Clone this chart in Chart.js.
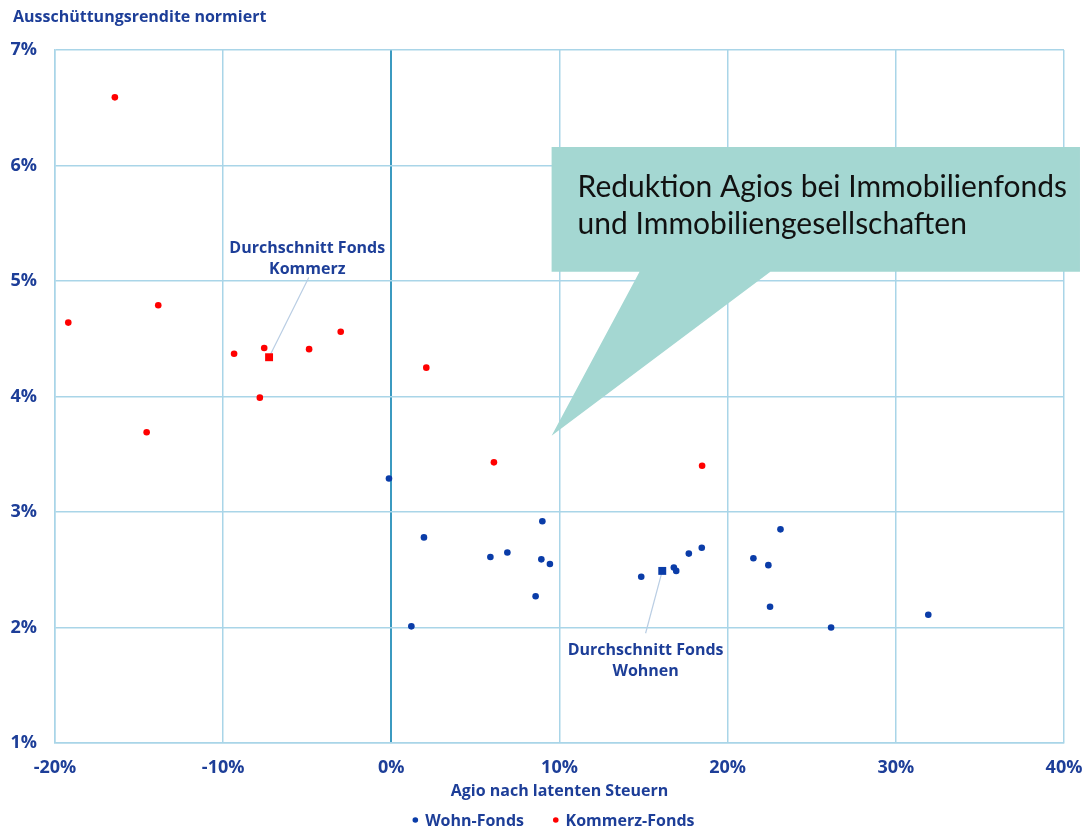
<!DOCTYPE html>
<html>
<head>
<meta charset="utf-8">
<script src="https://cdn.jsdelivr.net/npm/chart.js@4.4.1/dist/chart.umd.min.js"></script>
<style>
  html, body { margin: 0; padding: 0; background: #ffffff; }
  #wrap { width: 1084px; height: 830px; position: relative; }
</style>
</head>
<body>
<div id="wrap"><canvas id="chart"></canvas></div>
<script>
// Agio (x, %) vs. normalised distribution yield (y, %)
const wohnAgio    = [-0.14, 1.94, 1.19, 5.89, 6.90, 8.98, 8.92, 9.43, 8.58, 14.86, 16.80, 16.94, 17.69, 18.46, 21.53, 22.42, 23.14, 22.52, 26.15, 31.93];
const wohnRendite = [ 3.29, 2.78, 2.01, 2.61, 2.65, 2.92, 2.59, 2.55, 2.27,  2.44,  2.52,  2.49,  2.64,  2.69,  2.60,  2.54,  2.85,  2.18,  2.00,  2.11];

const kommerzAgio    = [-16.44, -19.21, -13.86, -9.35, -7.56, -4.89, -3.01, 2.08, -7.82, -14.55, 6.10, 18.48];
const kommerzRendite = [  6.59,   4.64,   4.79,  4.37,  4.42,  4.41,  4.56, 4.25,  3.99,   3.69, 3.43,  3.40];

// averages per fund type
const avgKommerz = { x: -7.27, y: 4.34 };
const avgWohnen  = { x: 16.11, y: 2.49 };

const xTickValues = [-20, -10, 0, 10, 20, 30, 40];
const yTickValues = [1, 2, 3, 4, 5, 6, 7];

const seriesNames = ['Wohn-Fonds', 'Kommerz-Fonds'];
const axisTitles = { x: 'Agio nach latenten Steuern', y: 'Ausschüttungsrendite normiert' };
const avgLabels = { kommerz: ['Durchschnitt Fonds', 'Kommerz'], wohnen: ['Durchschnitt Fonds', 'Wohnen'] };
const calloutLines = ['Reduktion Agios bei Immobilienfonds', 'und Immobiliengesellschaften'];

const TEXT_BLUE = '#1d3e98';
const WOHN_BLUE = '#0a3ca8';
const KOMMERZ_RED = '#ff0000';
const GRID = '#a9d5e8';
const ZERO_LINE = '#3b9ac0';
const FONT = '"Open Sans", "Noto Sans", sans-serif';

const toPoints = (xs, ys) => xs.map((x, i) => ({ x: x, y: ys[i] }));

// leader lines, average labels, legend row and the teal callout
const annotations = {
  id: 'annotations',
  beforeDatasetsDraw(chart) {
    const { ctx, scales: { x, y } } = chart;
    ctx.save();
    ctx.strokeStyle = '#b9cde3';
    ctx.lineWidth = 1.2;
    const lines = [
      [avgKommerz, { x: -4.91, y: 5.03 }],
      [avgWohnen,  { x: 15.12, y: 1.95 }]
    ];
    lines.forEach(([a, b]) => {
      ctx.beginPath();
      ctx.moveTo(x.getPixelForValue(a.x), y.getPixelForValue(a.y));
      ctx.lineTo(x.getPixelForValue(b.x), y.getPixelForValue(b.y));
      ctx.stroke();
    });
    ctx.fillStyle = TEXT_BLUE;
    ctx.font = 'bold 16px ' + FONT;
    ctx.textAlign = 'center';
    ctx.textBaseline = 'middle';
    const kx = x.getPixelForValue(-5.0), ky = y.getPixelForValue(5.285);
    ctx.fillText(avgLabels.kommerz[0], kx, ky);
    ctx.fillText(avgLabels.kommerz[1], kx, ky + 21);
    const wx = x.getPixelForValue(15.12), wy = y.getPixelForValue(1.805);
    ctx.fillText(avgLabels.wohnen[0], wx, wy);
    ctx.fillText(avgLabels.wohnen[1], wx, wy + 21);
    ctx.restore();
  },
  afterDraw(chart) {
    const { ctx, chartArea, scales: { x, y } } = chart;
    ctx.save();
    // y-axis heading, top left
    ctx.fillStyle = TEXT_BLUE;
    ctx.font = 'bold 16px ' + FONT;
    ctx.textAlign = 'left';
    ctx.textBaseline = 'middle';
    ctx.fillText(axisTitles.y, 13, 17);

    // legend row below the axis title
    const items = chart.data.datasets.filter(d => seriesNames.includes(d.label));
    const dotR = 2.8, dotGap = 7, itemGap = 29;
    const widths = items.map(d => 2 * dotR + dotGap + ctx.measureText(d.label).width);
    const total = widths.reduce((a, b) => a + b, 0) + itemGap * (items.length - 1);
    let cx = (chartArea.left + chartArea.right) / 2 - 6 - total / 2;
    const ly = chartArea.bottom + 78;
    items.forEach((d, i) => {
      ctx.fillStyle = d.backgroundColor;
      ctx.beginPath();
      ctx.arc(cx + dotR, ly - 1, dotR, 0, Math.PI * 2);
      ctx.fill();
      ctx.fillStyle = TEXT_BLUE;
      ctx.fillText(d.label, cx + 2 * dotR + dotGap, ly);
      cx += widths[i] + itemGap;
    });

    // callout bubble
    const L = x.getPixelForValue(9.53), R = x.getPixelForValue(40.95);
    const T = y.getPixelForValue(6.16), B = y.getPixelForValue(5.08);
    const b1 = x.getPixelForValue(14.76), b2 = x.getPixelForValue(22.54);
    const tipX = x.getPixelForValue(9.53), tipY = y.getPixelForValue(3.66);
    ctx.fillStyle = '#a4d7d2';
    ctx.beginPath();
    ctx.moveTo(L, T);
    ctx.lineTo(R, T);
    ctx.lineTo(R, B);
    ctx.lineTo(b2, B);
    ctx.lineTo(tipX, tipY);
    ctx.lineTo(b1, B);
    ctx.lineTo(L, B);
    ctx.closePath();
    ctx.fill();

    ctx.fillStyle = '#111111';
    ctx.font = '30px Lato, "Open Sans", sans-serif';
    ctx.textAlign = 'left';
    ctx.textBaseline = 'middle';
    ctx.fillText(calloutLines[0], L + 26, T + 40);
    ctx.fillText(calloutLines[1], L + 26, T + 77);
    ctx.restore();
  }
};

new Chart(document.getElementById('chart'), {
  type: 'scatter',
  data: {
    datasets: [
      {
        label: seriesNames[0],
        data: toPoints(wohnAgio, wohnRendite),
        backgroundColor: WOHN_BLUE,
        borderColor: WOHN_BLUE,
        pointRadius: 3.3,
        pointBorderWidth: 0
      },
      {
        label: seriesNames[1],
        data: toPoints(kommerzAgio, kommerzRendite),
        backgroundColor: KOMMERZ_RED,
        borderColor: KOMMERZ_RED,
        pointRadius: 3.3,
        pointBorderWidth: 0
      },
      {
        label: 'avgWohnen',
        data: [avgWohnen],
        backgroundColor: WOHN_BLUE,
        borderColor: WOHN_BLUE,
        pointStyle: 'rect',
        pointRadius: 5.6,
        pointBorderWidth: 0
      },
      {
        label: 'avgKommerz',
        data: [avgKommerz],
        backgroundColor: KOMMERZ_RED,
        borderColor: KOMMERZ_RED,
        pointStyle: 'rect',
        pointRadius: 5.6,
        pointBorderWidth: 0
      }
    ]
  },
  options: {
    responsive: true,
    maintainAspectRatio: false,
    animation: false,
    events: [],
    layout: { padding: { top: 50, right: 0, left: 0, bottom: 23 } },
    plugins: {
      tooltip: { enabled: false },
      title: { display: false },
      legend: { display: false }
    },
    scales: {
      x: {
        type: 'linear',
        min: -20,
        max: 40,
        afterBuildTicks: (s) => { s.ticks = xTickValues.map(v => ({ value: v })); },
        afterFit: (s) => { s.height = 64; s.paddingRight = 20; },
        ticks: {
          padding: 14,
          color: TEXT_BLUE,
          font: { family: FONT, size: 18, weight: 'bold' },
          callback: (v) => v + '%'
        },
        grid: {
          drawTicks: false,
          color: (c) => (c.tick && c.tick.value === 0 ? ZERO_LINE : GRID),
          lineWidth: (c) => (c.tick && c.tick.value === 0 ? 2 : 1.5)
        },
        border: { display: true, color: GRID, width: 1.5 },
        title: {
          display: true,
          text: axisTitles.x,
          color: TEXT_BLUE,
          font: { family: FONT, size: 16, weight: 'bold' },
          padding: { top: 0, bottom: 6 }
        }
      },
      y: {
        type: 'linear',
        min: 1,
        max: 7,
        afterBuildTicks: (s) => { s.ticks = yTickValues.map(v => ({ value: v })); },
        afterFit: (s) => { s.width = 55; },
        ticks: {
          padding: 18,
          color: TEXT_BLUE,
          font: { family: FONT, size: 18, weight: 'bold' },
          callback: (v) => v + '%'
        },
        grid: { drawTicks: false, color: GRID, lineWidth: 1.5 },
        border: { display: true, color: GRID, width: 1.5 }
      }
    }
  },
  plugins: [annotations]
});
</script>
</body>
</html>
